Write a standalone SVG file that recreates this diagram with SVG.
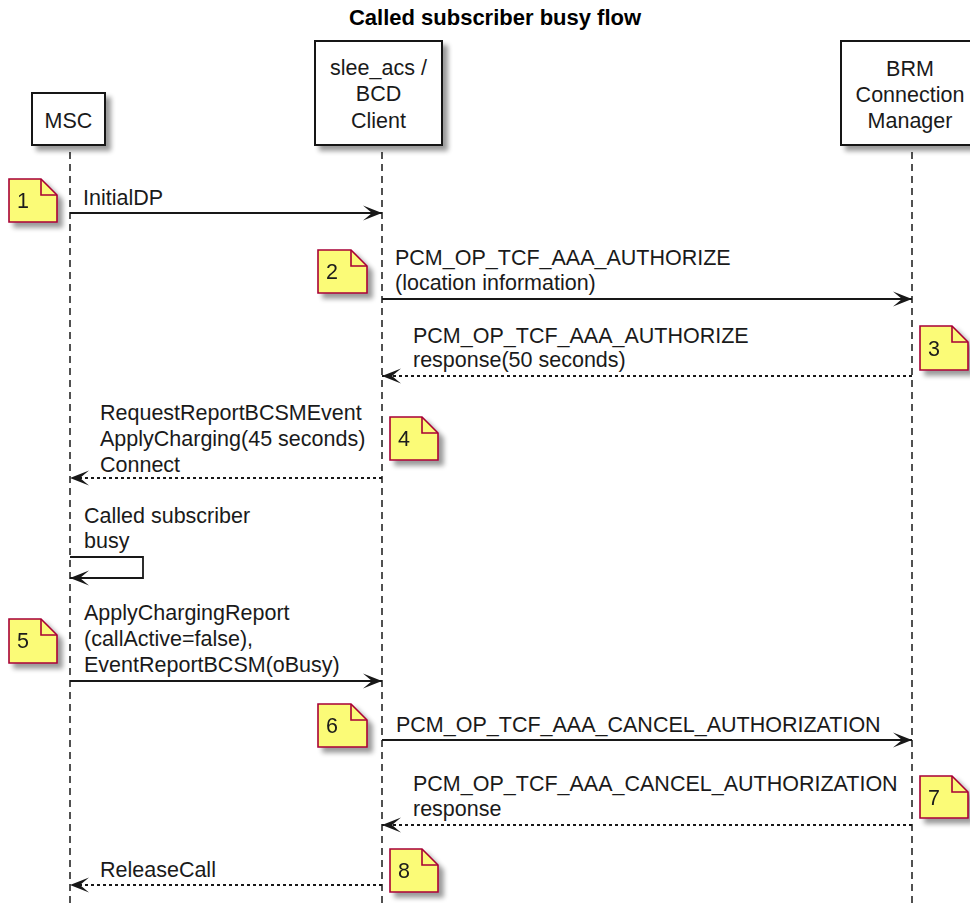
<svg xmlns="http://www.w3.org/2000/svg" width="970" height="905" viewBox="0 0 970 905">
<defs>
<filter id="sh" x="-20%" y="-20%" width="150%" height="150%">
<feGaussianBlur in="SourceAlpha" stdDeviation="2.5"/>
<feOffset dx="5" dy="5"/>
<feComponentTransfer><feFuncA type="linear" slope="0.4"/></feComponentTransfer>
<feMerge><feMergeNode/><feMergeNode in="SourceGraphic"/></feMerge>
</filter>
<marker id="ah" markerUnits="userSpaceOnUse" markerWidth="24" markerHeight="20" viewBox="-21 -10 24 20" refX="0" refY="0" orient="auto">
<path d="M0,0 L-19,-7.5 L-10,0 L-19,7.5 Z" fill="#181818" stroke="none"/>
</marker>
</defs>
<style>
text { font-family: "Liberation Sans", Arial, sans-serif; font-size: 21.5px; fill: #1a1a1a; }
.title { font-weight: bold; font-size: 22px; fill: #000; }
.box { fill: #fff; stroke: #181818; stroke-width: 2; }
.life { stroke: #181818; stroke-width: 1.5; stroke-dasharray: 7 5; fill: none; }
.msg { stroke: #181818; stroke-width: 1.8; fill: none; marker-end: url(#ah); }
.dash { stroke-dasharray: 3 3; }
.note { fill: #FBFB77; stroke: #A80036; stroke-width: 1.6; }
.fold { fill: none; stroke: #A80036; stroke-width: 1.6; }
</style>
<rect width="970" height="905" fill="#fff"/>
<text class="title" x="495" y="25" text-anchor="middle">Called subscriber busy flow</text>

<g id="lifelines">
<line class="life" x1="70" y1="152" x2="70" y2="905"/>
<line class="life" x1="382" y1="152" x2="382" y2="905"/>
<line class="life" x1="912" y1="152" x2="912" y2="905"/>
</g>

<g id="MSC">
<rect class="box" x="32" y="93" width="73" height="52" filter="url(#sh)"/>
<text x="68.5" y="128" text-anchor="middle">MSC</text>
</g>
<g id="slee_acs">
<rect class="box" x="315" y="41" width="127" height="104" filter="url(#sh)"/>
<text x="378.5" y="75" text-anchor="middle">slee_acs /</text>
<text x="378.5" y="101" text-anchor="middle">BCD</text>
<text x="378.5" y="128" text-anchor="middle">Client</text>
</g>
<g id="BRM">
<rect class="box" x="841" y="41" width="138" height="104" filter="url(#sh)"/>
<text x="910" y="76" text-anchor="middle">BRM</text>
<text x="910" y="102" text-anchor="middle">Connection</text>
<text x="910" y="128" text-anchor="middle">Manager</text>
</g>

<g id="connectors">
<line class="msg" x1="70" y1="213" x2="382" y2="213"/>
<text x="83" y="205">InitialDP</text>

<line class="msg" x1="382" y1="299" x2="912" y2="299"/>
<text x="395" y="265">PCM_OP_TCF_AAA_AUTHORIZE</text>
<text x="395" y="290">(location information)</text>

<line class="msg dash" x1="912" y1="376" x2="382" y2="376"/>
<text x="413" y="343">PCM_OP_TCF_AAA_AUTHORIZE</text>
<text x="413" y="367">response(50 seconds)</text>

<line class="msg dash" x1="382" y1="478" x2="70" y2="478"/>
<text x="100" y="420">RequestReportBCSMEvent</text>
<text x="100" y="446">ApplyCharging(45 seconds)</text>
<text x="100" y="472">Connect</text>

<path class="msg" d="M70,557 H143 V578 H70"/>
<text x="84" y="523">Called subscriber</text>
<text x="84" y="548">busy</text>

<line class="msg" x1="70" y1="681" x2="382" y2="681"/>
<text x="84" y="620">ApplyChargingReport</text>
<text x="84" y="646">(callActive=false),</text>
<text x="84" y="672">EventReportBCSM(oBusy)</text>

<line class="msg" x1="382" y1="740" x2="912" y2="740"/>
<text x="396" y="732">PCM_OP_TCF_AAA_CANCEL_AUTHORIZATION</text>

<line class="msg dash" x1="912" y1="825" x2="382" y2="825"/>
<text x="413" y="791">PCM_OP_TCF_AAA_CANCEL_AUTHORIZATION</text>
<text x="413" y="816">response</text>

<line class="msg dash" x1="382" y1="885" x2="70" y2="885"/>
<text x="100" y="877">ReleaseCall</text>
</g>

<g id="note1" filter="url(#sh)">
<path class="note" d="M9,179 H41 L57,195 V222 H9 Z"/>
<path class="fold" d="M41,179 V195 H57"/>
<text x="17" y="208">1</text>
</g>
<g id="note2" filter="url(#sh)">
<path class="note" d="M318,250 H351 L367,266 V293 H318 Z"/>
<path class="fold" d="M351,250 V266 H367"/>
<text x="326" y="279">2</text>
</g>
<g id="note3" filter="url(#sh)">
<path class="note" d="M920,326 H952 L968,342 V370 H920 Z"/>
<path class="fold" d="M952,326 V342 H968"/>
<text x="928" y="356">3</text>
</g>
<g id="note4" filter="url(#sh)">
<path class="note" d="M390,417 H422 L438,433 V460 H390 Z"/>
<path class="fold" d="M422,417 V433 H438"/>
<text x="398" y="446">4</text>
</g>
<g id="note5" filter="url(#sh)">
<path class="note" d="M9,619 H41 L57,635 V663 H9 Z"/>
<path class="fold" d="M41,619 V635 H57"/>
<text x="17" y="648">5</text>
</g>
<g id="note6" filter="url(#sh)">
<path class="note" d="M318,704 H351 L367,720 V747 H318 Z"/>
<path class="fold" d="M351,704 V720 H367"/>
<text x="326" y="733">6</text>
</g>
<g id="note7" filter="url(#sh)">
<path class="note" d="M920,776 H952 L968,792 V818 H920 Z"/>
<path class="fold" d="M952,776 V792 H968"/>
<text x="928" y="805">7</text>
</g>
<g id="note8" filter="url(#sh)">
<path class="note" d="M390,849 H422 L438,865 V892 H390 Z"/>
<path class="fold" d="M422,849 V865 H438"/>
<text x="398" y="878">8</text>
</g>
</svg>
